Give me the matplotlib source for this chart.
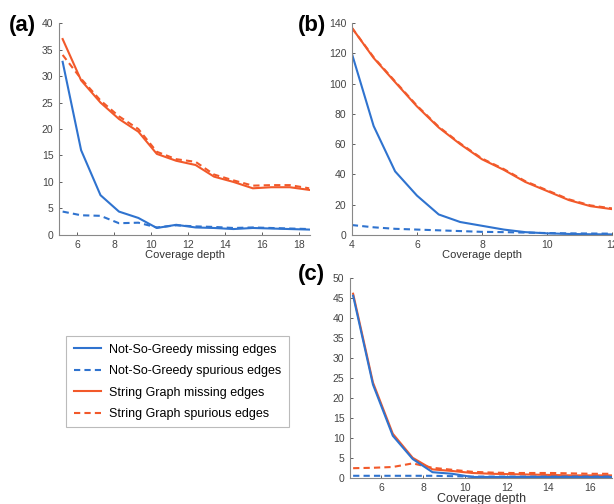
import matplotlib
matplotlib.use("Agg")
import matplotlib.pyplot as plt
from matplotlib.lines import Line2D

plt.rcParams['font.family'] = ['Liberation Sans', 'DejaVu Sans']

BLUE = "#2f73cf"
ORANGE = "#f2592a"

# Panel (a)
a_x = [5.2, 6.2, 7.25, 8.25, 9.3, 10.3, 11.35, 12.4, 13.4, 14.45, 15.5, 16.5, 17.5, 18.55]
a_nsg_missing = [32.7, 16.0, 7.5, 4.4, 3.2, 1.3, 1.9, 1.4, 1.3, 1.1, 1.3, 1.2, 1.1, 1.0]
a_nsg_spurious = [4.4, 3.7, 3.6, 2.2, 2.3, 1.4, 1.8, 1.6, 1.5, 1.3, 1.4, 1.3, 1.2, 1.1]
a_sg_missing = [37.0, 29.2, 25.0, 21.9, 19.5, 15.3, 14.0, 13.2, 11.0, 10.0, 8.8, 9.0, 9.0, 8.5]
a_sg_spurious = [34.0, 29.5, 25.4, 22.4, 20.0, 15.7, 14.3, 13.8, 11.4, 10.3, 9.3, 9.4, 9.4, 8.8]

# Panel (b)
b_x = [4.0, 4.67, 5.33, 6.0, 6.67, 7.33, 8.0, 8.67, 9.33, 10.0, 10.67, 11.33, 12.0]
b_nsg_missing = [120, 72, 42, 26, 13.5, 8.5, 6, 3.5, 1.8, 1.0, 0.6, 0.4, 0.3]
b_nsg_spurious = [6.5, 5.0, 4.0, 3.5, 3.0, 2.5, 2.0, 1.8, 1.5, 1.2, 1.0, 0.9, 0.8]
b_sg_missing = [137, 117, 101, 85, 71, 60, 50, 43, 35, 29, 23, 19, 17]
b_sg_spurious = [137, 117.5, 101.5, 85.5, 71.5, 60.5, 50.5, 43.5, 35.5, 29.5, 23.5, 19.5, 17.5]

# Panel (c)
c_x = [4.65, 5.6, 6.55, 7.5, 8.45, 9.4, 10.35, 11.3, 12.25, 13.2, 14.15, 15.1, 16.05, 17.0]
c_nsg_missing = [45.5, 23.3, 10.5, 4.7, 1.4, 1.0, 0.2, 0.2, 0.2, 0.2, 0.2, 0.2, 0.2, 0.2]
c_nsg_spurious = [0.5, 0.5, 0.5, 0.5, 0.5, 0.4, 0.3, 0.3, 0.3, 0.3, 0.3, 0.3, 0.3, 0.3]
c_sg_missing = [46.0, 23.8, 11.0, 5.0, 2.1, 1.7, 1.2, 1.0, 0.9, 0.8, 0.7, 0.6, 0.6, 0.6]
c_sg_spurious = [2.4, 2.5, 2.7, 3.6, 2.5, 2.0, 1.5, 1.3, 1.2, 1.2, 1.2, 1.1, 1.0, 1.0]

labels = ["Not-So-Greedy missing edges", "Not-So-Greedy spurious edges",
          "String Graph missing edges", "String Graph spurious edges"]

fig = plt.figure(figsize=(6.14, 5.04), dpi=100)

def style(ax):
    for s in ["top", "right"]:
        ax.spines[s].set_visible(False)
    for s in ["left", "bottom"]:
        ax.spines[s].set_color("#888888")
        ax.spines[s].set_linewidth(0.8)
    ax.tick_params(labelsize=7.5, colors="#444444", length=2.5, direction="in", width=0.6, pad=4)
    ax.set_xlabel("Coverage depth", fontsize=8, color="#333333", labelpad=0)

def draw(ax, x, nm, ns, sm, ss):
    ax.plot(x, sm, color=ORANGE, lw=1.5)
    ax.plot(x, ss, color=ORANGE, lw=1.5, ls=(0, (3, 2)))
    ax.plot(x, nm, color=BLUE, lw=1.5)
    ax.plot(x, ns, color=BLUE, lw=1.5, ls=(0, (3, 2)))

axa = fig.add_axes([0.096, 0.534, 0.409, 0.420])
draw(axa, a_x, a_nsg_missing, a_nsg_spurious, a_sg_missing, a_sg_spurious)
axa.set_xlim(5.0, 18.6)
axa.set_ylim(0, 40)
axa.set_xticks([6, 8, 10, 12, 14, 16, 18])
axa.set_yticks(range(0, 41, 5))
style(axa)

axb = fig.add_axes([0.573, 0.534, 0.424, 0.420])
draw(axb, b_x, b_nsg_missing, b_nsg_spurious, b_sg_missing, b_sg_spurious)
axb.set_xlim(4, 12)
axb.set_ylim(0, 140)
axb.set_xticks([4, 6, 8, 10, 12])
axb.set_yticks(range(0, 141, 20))
style(axb)

axc = fig.add_axes([0.570, 0.052, 0.427, 0.397])
draw(axc, c_x, c_nsg_missing, c_nsg_spurious, c_sg_missing, c_sg_spurious)
axc.set_xlim(4.5, 17.05)
axc.set_ylim(0, 50)
axc.set_xticks([6, 8, 10, 12, 14, 16])
axc.set_yticks(range(0, 51, 5))
style(axc)
axc.xaxis.label.set_fontsize(9)

fig.text(0.015, 0.950, "(a)", fontsize=16, fontweight="bold", va="center")
fig.text(0.485, 0.950, "(b)", fontsize=16, fontweight="bold", va="center")
fig.text(0.485, 0.455, "(c)", fontsize=16, fontweight="bold", va="center")

handles = [Line2D([], [], color=BLUE, lw=1.5),
           Line2D([], [], color=BLUE, lw=1.5, ls=(0, (3, 2))),
           Line2D([], [], color=ORANGE, lw=1.5),
           Line2D([], [], color=ORANGE, lw=1.5, ls=(0, (3, 2)))]
leg = fig.legend(handles, labels, loc="upper left", bbox_to_anchor=(0.098, 0.345),
                 fontsize=9, frameon=True, fancybox=False, handlelength=2.2,
                 borderpad=0.6, labelspacing=0.75, handletextpad=0.6)
leg.get_frame().set_edgecolor("#aaaaaa")
leg.get_frame().set_linewidth(0.8)

fig.savefig("out.png", dpi=100)
